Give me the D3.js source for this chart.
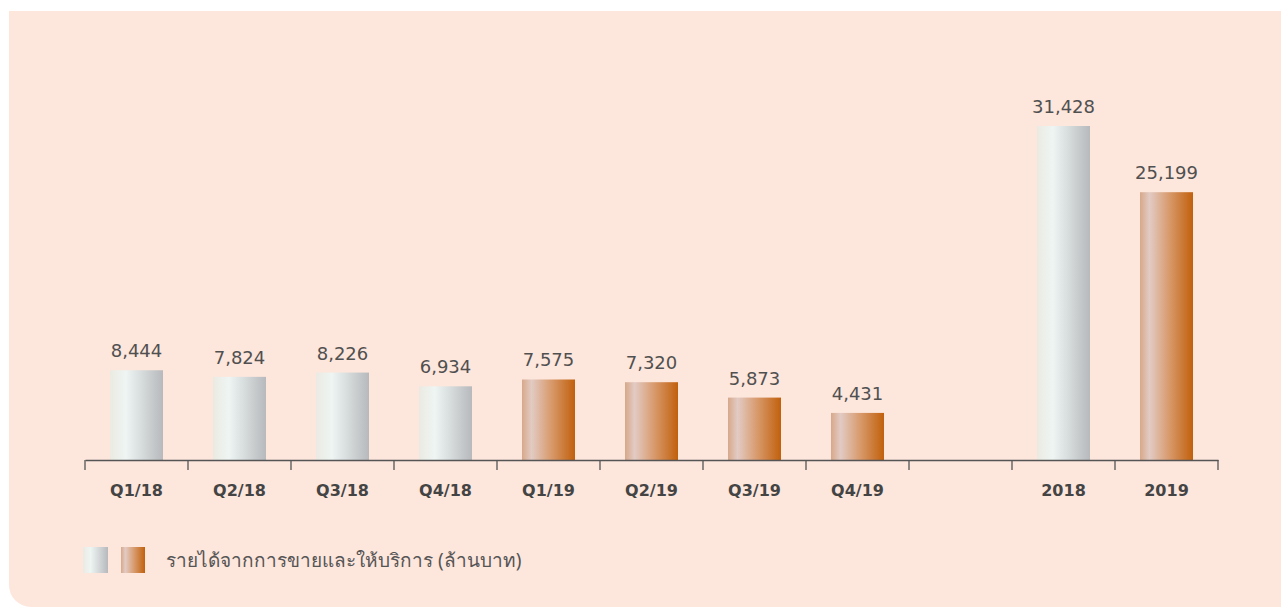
<!DOCTYPE html>
<html>
<head>
<meta charset="utf-8">
<script src="https://cdn.jsdelivr.net/npm/d3@7"></script>
<style>
  body { margin: 0; background: #fff; }
  svg { display: block; font-family: "DejaVu Sans", "Noto Sans", sans-serif; }
</style>
</head>
<body>
<div id="chart"></div>
<script>
var categories = ["Q1/18", "Q2/18", "Q3/18", "Q4/18", "Q1/19", "Q2/19", "Q3/19", "Q4/19", "", "2018", "2019"];
var revenue = [8444, 7824, 8226, 6934, 7575, 7320, 5873, 4431, null, 31428, 25199];
var years = ["18", "18", "18", "18", "19", "19", "19", "19", "", "18", "19"];
var legendText = "รายได้จากการขายและให้บริการ (ล้านบาท)";

var width = 1281, height = 607;
var margin = { top: 126, bottom: 147, left: 85, right: 63 };

var svg = d3.select("#chart")
    .append("svg")
    .attr("width", width)
    .attr("height", height);

var defs = svg.append("defs");

var silver = defs.append("linearGradient").attr("id", "g18")
    .attr("x1", "0%").attr("x2", "100%").attr("y1", "0%").attr("y2", "0%");
silver.append("stop").attr("offset", "0%").attr("stop-color", "#ebeae2");
silver.append("stop").attr("offset", "30%").attr("stop-color", "#eef5f3");
silver.append("stop").attr("offset", "100%").attr("stop-color", "#b7b9bc");

var copper = defs.append("linearGradient").attr("id", "g19")
    .attr("x1", "0%").attr("x2", "100%").attr("y1", "0%").attr("y2", "0%");
copper.append("stop").attr("offset", "0%").attr("stop-color", "#d7a88a");
copper.append("stop").attr("offset", "18%").attr("stop-color", "#e2cbc4");
copper.append("stop").attr("offset", "55%").attr("stop-color", "#d89a6c");
copper.append("stop").attr("offset", "100%").attr("stop-color", "#c1600c");

// background panel, rounded bottom-left corner
var r = 22, px = 9, py = 11;
svg.append("path")
    .attr("d", "M" + px + "," + py + "H" + width + "V" + height + "H" + (px + r) +
        "A" + r + "," + r + " 0 0 1 " + px + "," + (height - r) + "Z")
    .attr("fill", "#fde6dc");

var x = d3.scaleBand()
    .domain(d3.range(categories.length))
    .range([margin.left, width - margin.right])
    .paddingInner(0).paddingOuter(0);

var baseY = height - margin.bottom;
var y = d3.scaleLinear()
    .domain([0, 31428])
    .range([baseY, margin.top]);

var barW = 53;

var bars = svg.append("g");
categories.forEach(function (c, i) {
    if (revenue[i] == null) return;
    var cx = x(i) + x.bandwidth() / 2;
    bars.append("rect")
        .attr("x", cx - barW / 2)
        .attr("y", y(revenue[i]))
        .attr("width", barW)
        .attr("height", baseY - y(revenue[i]))
        .attr("fill", "url(#g" + years[i] + ")");
    bars.append("text")
        .text(d3.format(",")(revenue[i]))
        .attr("x", cx)
        .attr("y", y(revenue[i]) - 13)
        .attr("text-anchor", "middle")
        .attr("font-size", 18)
        .attr("fill", "#505050");
});

var axis = d3.axisBottom(x)
    .tickSize(0)
    .tickFormat(function (i) { return categories[i]; });

var gx = svg.append("g")
    .attr("transform", "translate(0," + baseY + ")")
    .call(axis);
gx.select(".domain").attr("stroke", "#555").attr("stroke-width", 1.5);
gx.selectAll(".tick text")
    .attr("dy", 0)
    .attr("y", 36)
    .attr("font-size", 16)
    .attr("font-weight", "bold")
    .attr("font-family", "\"DejaVu Sans\", sans-serif")
    .attr("fill", "#444");

// boundary ticks between bands
var edges = d3.range(categories.length + 1).map(function (i) {
    return i < categories.length ? x(i) : x(i - 1) + x.bandwidth();
});
gx.selectAll(".edge")
    .data(edges)
    .enter().append("line")
    .attr("x1", function (d) { return d; })
    .attr("x2", function (d) { return d; })
    .attr("y1", 0)
    .attr("y2", 10)
    .attr("stroke", "#555")
    .attr("stroke-width", 1.3);

// legend
var lg = svg.append("g").attr("transform", "translate(83,547)");
lg.append("rect").attr("x", 0).attr("y", 0).attr("width", 25).attr("height", 26).attr("fill", "url(#g18)");
lg.append("rect").attr("x", 38).attr("y", 0).attr("width", 24).attr("height", 26).attr("fill", "url(#g19)");
lg.append("text")
    .text(legendText)
    .attr("x", 83)
    .attr("y", 20)
    .attr("font-size", 19)
    .attr("font-family", "\"Noto Sans\", sans-serif")
    .attr("fill", "#555");
</script>
</body>
</html>
